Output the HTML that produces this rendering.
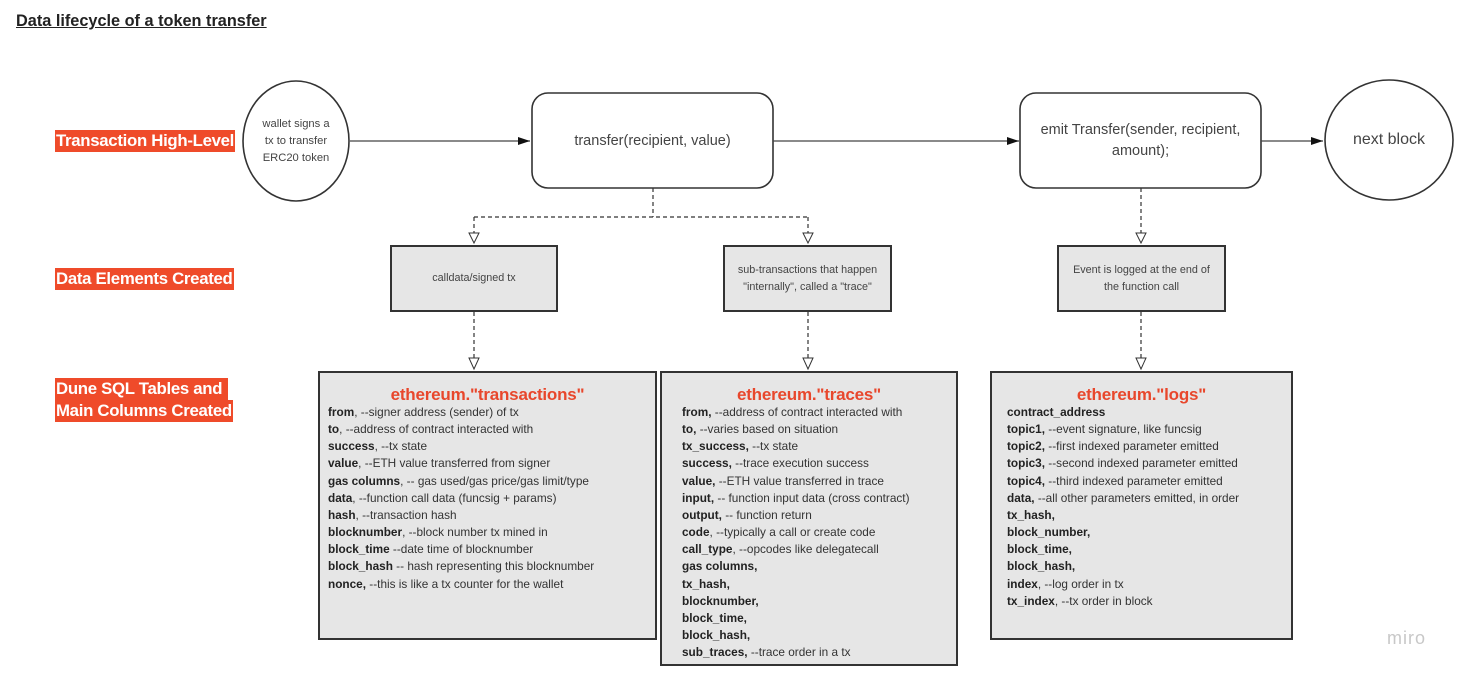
<!DOCTYPE html>
<html><head><meta charset="utf-8"><style>
*{margin:0;padding:0;box-sizing:border-box}
body{width:1467px;height:681px;background:#fff;position:relative;overflow:hidden;font-family:"Liberation Sans",sans-serif;color:#333}
.a{position:absolute}
.lbl{position:absolute;background:#ef4b2a;color:#fff;font-weight:bold;font-size:16.8px;line-height:22px;padding:0 1px;letter-spacing:-0.3px}
.box{position:absolute;background:#e6e6e6;border:2px solid #333;font-size:10.8px;color:#444;display:flex;align-items:center;justify-content:center;text-align:center;line-height:17px}
.tbl{position:absolute;background:#e6e6e6;border:2px solid #333}
.tbl h3{position:absolute;left:0;right:0;top:12px;text-align:center;color:#e8472c;font-size:17px;font-weight:bold;letter-spacing:-0.2px}
.rows{position:absolute;top:31px;font-size:11.8px;line-height:17.15px;color:#333;white-space:nowrap}
.rows b{color:#222}
.node{position:absolute;display:flex;align-items:center;justify-content:center;text-align:center;color:#444}
</style></head><body>
<div class="a" style="left:16px;top:12px;font-size:16.3px;font-weight:bold;text-decoration:underline;color:#222">Data lifecycle of a token transfer</div>
<div class="lbl" style="left:55px;top:130px">Transaction High-Level</div>
<div class="lbl" style="left:55px;top:268px">Data Elements Created</div>
<div class="lbl" style="left:55px;top:378px">Dune SQL Tables and&nbsp;</div>
<div class="lbl" style="left:55px;top:400px">Main Columns Created</div>

<svg class="a" style="left:0;top:0" width="1467" height="681">
<defs>
<marker id="f" markerWidth="12" markerHeight="8" refX="12" refY="4" orient="auto" markerUnits="userSpaceOnUse"><path d="M0,0 L12,4 L0,8 Z" fill="#111"/></marker>
</defs>
<g fill="#fff" stroke="#333" stroke-width="1.6">
<ellipse cx="296" cy="141" rx="53" ry="60"/>
<rect x="532" y="93" width="241" height="95" rx="16"/>
<rect x="1020" y="93" width="241" height="95" rx="16"/>
<ellipse cx="1389" cy="140" rx="64" ry="60"/>
</g>
<g stroke="#444" stroke-width="1.2" fill="none">
<line x1="350" y1="141" x2="530" y2="141" marker-end="url(#f)"/>
<line x1="773" y1="141" x2="1019" y2="141" marker-end="url(#f)"/>
<line x1="1261" y1="141" x2="1323" y2="141" marker-end="url(#f)"/>
</g>
<g stroke="#333" stroke-width="1.2" fill="none" stroke-dasharray="4,3">
<line x1="653" y1="188" x2="653" y2="217"/>
<line x1="474" y1="217" x2="808" y2="217"/>
<line x1="474" y1="217" x2="474" y2="233"/>
<line x1="808" y1="217" x2="808" y2="233"/>
<line x1="1141" y1="188" x2="1141" y2="233"/>
<line x1="474" y1="312" x2="474" y2="358"/>
<line x1="808" y1="312" x2="808" y2="358"/>
<line x1="1141" y1="312" x2="1141" y2="358"/>
</g>
<g fill="#fff" stroke="#333" stroke-width="1">
<path d="M469,233 L479,233 L474,243 Z"/>
<path d="M803,233 L813,233 L808,243 Z"/>
<path d="M1136,233 L1146,233 L1141,243 Z"/>
<path d="M469,358 L479,358 L474,369 Z"/>
<path d="M803,358 L813,358 L808,369 Z"/>
<path d="M1136,358 L1146,358 L1141,369 Z"/>
</g>
</svg>

<div class="node" style="left:243px;top:81px;width:106px;height:120px;font-size:11.2px;line-height:17px">wallet signs a<br>tx to transfer<br>ERC20 token</div>
<div class="node" style="left:532px;top:93px;width:241px;height:95px;font-size:14.5px">transfer(recipient, value)</div>
<div class="node" style="left:1020px;top:93px;width:241px;height:95px;font-size:14.5px;line-height:21px">emit Transfer(sender, recipient,<br>amount);</div>
<div class="node" style="left:1325px;top:80px;width:128px;height:120px;font-size:16px">next block</div>

<div class="box" style="left:390px;top:245px;width:168px;height:67px">calldata/signed tx</div>
<div class="box" style="left:723px;top:245px;width:169px;height:67px">sub-transactions that happen<br>"internally", called a "trace"</div>
<div class="box" style="left:1057px;top:245px;width:169px;height:67px">Event is logged at the end of<br>the function call</div>

<div class="tbl" style="left:318px;top:371px;width:339px;height:269px"><h3>ethereum."transactions"</h3>
<div class="rows" style="left:8px">
<b>from</b>, --signer address (sender) of tx<br>
<b>to</b>, --address of contract interacted with<br>
<b>success</b>, --tx state<br>
<b>value</b>, --ETH value transferred from signer<br>
<b>gas columns</b>, -- gas used/gas price/gas limit/type<br>
<b>data</b>, --function call data (funcsig + params)<br>
<b>hash</b>, --transaction hash<br>
<b>blocknumber</b>, --block number tx mined in<br>
<b>block_time</b> --date time of blocknumber<br>
<b>block_hash</b> -- hash representing this blocknumber<br>
<b>nonce,</b> --this is like a tx counter for the wallet</div></div>

<div class="tbl" style="left:660px;top:371px;width:298px;height:295px"><h3>ethereum."traces"</h3>
<div class="rows" style="left:20px">
<b>from,</b> --address of contract interacted with<br>
<b>to,</b> --varies based on situation<br>
<b>tx_success,</b> --tx state<br>
<b>success,</b> --trace execution success<br>
<b>value,</b> --ETH value transferred in trace<br>
<b>input,</b> -- function input data (cross contract)<br>
<b>output,</b> -- function return<br>
<b>code</b>, --typically a call or create code<br>
<b>call_type</b>, --opcodes like delegatecall<br>
<b>gas columns,</b><br>
<b>tx_hash,</b><br>
<b>blocknumber,</b><br>
<b>block_time,</b><br>
<b>block_hash,</b><br>
<b>sub_traces,</b> --trace order in a tx</div></div>

<div class="tbl" style="left:990px;top:371px;width:303px;height:269px"><h3>ethereum."logs"</h3>
<div class="rows" style="left:15px">
<b>contract_address</b><br>
<b>topic1,</b> --event signature, like funcsig<br>
<b>topic2,</b> --first indexed parameter emitted<br>
<b>topic3,</b> --second indexed parameter emitted<br>
<b>topic4,</b> --third indexed parameter emitted<br>
<b>data,</b> --all other parameters emitted, in order<br>
<b>tx_hash,</b><br>
<b>block_number,</b><br>
<b>block_time,</b><br>
<b>block_hash,</b><br>
<b>index</b>, --log order in tx<br>
<b>tx_index</b>, --tx order in block</div></div>

<div class="a" style="left:1387px;top:628px;font-size:18px;color:#c8c8c8;letter-spacing:1px">miro</div>
</body></html>
